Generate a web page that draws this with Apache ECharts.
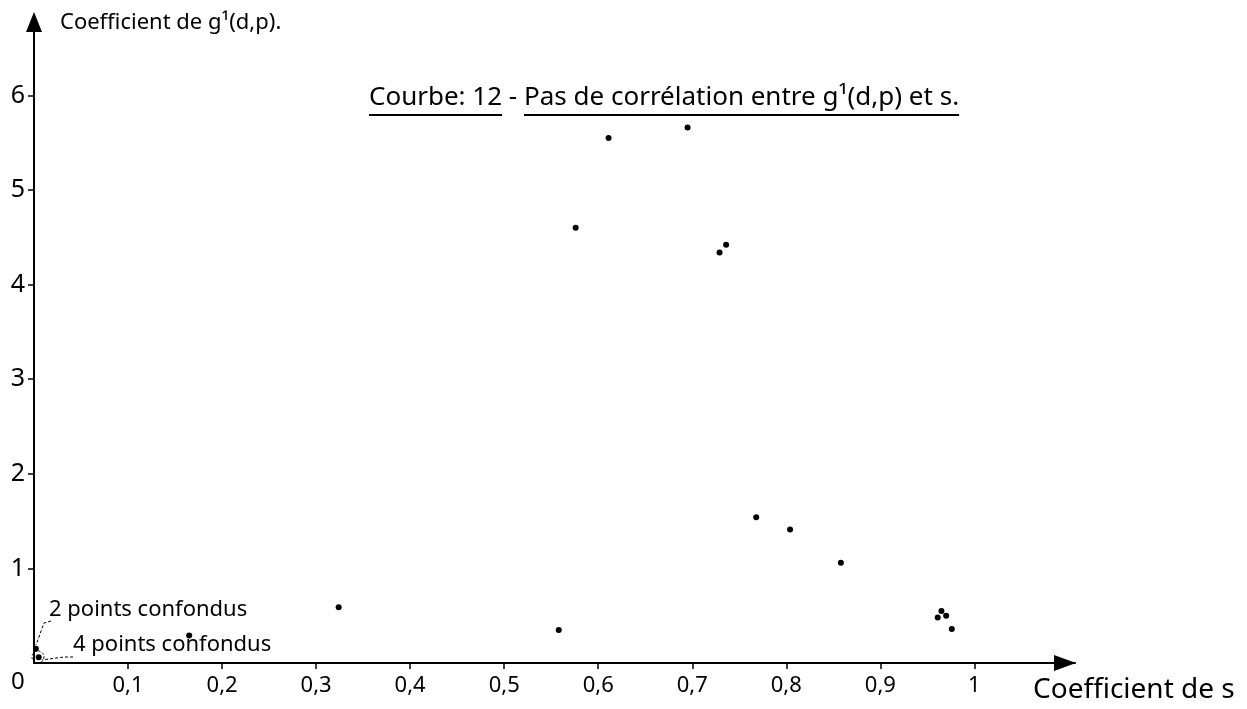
<!DOCTYPE html>
<html><head><meta charset="utf-8">
<script src="https://cdn.jsdelivr.net/npm/echarts@6/dist/echarts.min.js"></script>
<style>html,body{margin:0;padding:0;background:#fff}#c{width:1247px;height:709px}</style>
</head><body><div id="c"></div>
<script>
// Data (x = coefficient de s, y = coefficient de g1(d,p))
const sValues  = [0.611, 0.695, 0.576, 0.736, 0.729, 0.768, 0.804, 0.858, 0.965, 0.961, 0.970, 0.976, 0.324, 0.558, 0.165, 0.002, 0.005];
const gValues  = [5.55, 5.66, 4.60, 4.42, 4.34, 1.54, 1.41, 1.06, 0.55, 0.48, 0.50, 0.36, 0.59, 0.35, 0.29, 0.15, 0.06];
const xTickValues = [0.1, 0.2, 0.3, 0.4, 0.5, 0.6, 0.7, 0.8, 0.9, 1];
const xTickLabels = ['0,1','0,2','0,3','0,4','0,5','0,6','0,7','0,8','0,9','1'];
const yTickValues = [1, 2, 3, 4, 5, 6];
const yTickLabels = ['1','2','3','4','5','6'];
const titleLeft = 'Courbe: 12';
const titleSep = ' - ';
const titleRight = 'Pas de corrélation entre g¹(d,p) et s.';
const annotations = ['2 points confondus', '4 points confondus'];

const points = sValues.map((s, i) => [s, gValues[i]]);
const FONT = 'Noto Sans';
const TITLE_SIZE = 26, TITLE_LEFT = 369, TITLE_TOP = 85;

// measure title pieces to place the underlines
const ctx = document.createElement('canvas').getContext('2d');
ctx.font = TITLE_SIZE + 'px "Noto Sans"';
const w1 = ctx.measureText(titleLeft).width;
const ws = ctx.measureText(titleSep).width;
const w2 = ctx.measureText(titleRight).width;
const ulY = TITLE_TOP + 30;

const labelOf = (vals, labels) => v => {
  const i = vals.findIndex(t => Math.abs(t - v) < 1e-6);
  return i >= 0 ? labels[i] : '';
};

const chart = echarts.init(document.getElementById('c'));
chart.setOption({
  animation: false,
  backgroundColor: '#fff',
  grid: { left: 34, right: 172, top: 15, bottom: 46 },
  xAxis: {
    type: 'value', min: 0, max: 1.107, interval: 0.1,
    name: 'Coefficient de s', nameLocation: 'end', nameGap: -42,
    nameTextStyle: { fontFamily: FONT, fontSize: 28, color: '#000', align: 'left', verticalAlign: 'top', padding: [13, 0, 0, 0] },
    axisLine: { lineStyle: { color: '#000', width: 2 }, symbol: ['none', 'triangle'], symbolSize: [16, 22], symbolOffset: [0, -10] },
    axisTick: { show: true, length: 6, customValues: xTickValues, lineStyle: { color: '#000', width: 1.5 } },
    splitLine: { show: false },
    axisLabel: {
      fontFamily: FONT, fontSize: 22, color: '#000', margin: 12,
      customValues: xTickValues, formatter: labelOf(xTickValues, xTickLabels)
    }
  },
  yAxis: {
    type: 'value', min: 0, max: 6.85, interval: 1,
    name: 'Coefficient de g¹(d,p).', nameLocation: 'end', nameGap: -8,
    nameTextStyle: { fontFamily: FONT, fontSize: 22, color: '#000', align: 'left', verticalAlign: 'middle', padding: [0, 0, 0, 26] },
    axisLine: { lineStyle: { color: '#000', width: 2 }, symbol: ['none', 'triangle'], symbolSize: [16, 20], symbolOffset: [0, -7] },
    axisTick: { show: true, length: 6, customValues: yTickValues, lineStyle: { color: '#000', width: 1.5 } },
    splitLine: { show: false },
    axisLabel: {
      fontFamily: FONT, fontSize: 25, color: '#000', margin: 9,
      customValues: yTickValues, formatter: labelOf(yTickValues, yTickLabels)
    }
  },
  title: {
    text: titleLeft + titleSep + titleRight,
    left: TITLE_LEFT, top: TITLE_TOP, padding: 0,
    textStyle: { fontFamily: FONT, fontSize: TITLE_SIZE, fontWeight: 'normal', color: '#000' }
  },
  graphic: [
    { type: 'line', shape: { x1: TITLE_LEFT, y1: ulY, x2: TITLE_LEFT + w1, y2: ulY }, style: { stroke: '#000', lineWidth: 2 } },
    { type: 'line', shape: { x1: TITLE_LEFT + w1 + ws, y1: ulY, x2: TITLE_LEFT + w1 + ws + w2, y2: ulY }, style: { stroke: '#000', lineWidth: 2 } },
    { type: 'text', left: 11, top: 670, style: { text: '0', font: '24px "Noto Sans"', fill: '#000' } },
    { type: 'text', left: 49, top: 599, style: { text: annotations[0], font: '22px "Noto Sans"', fill: '#000' } },
    { type: 'text', left: 73, top: 634, style: { text: annotations[1], font: '22px "Noto Sans"', fill: '#000' } },
    { type: 'polyline', shape: { points: [[51, 621], [44, 623], [36, 645]] }, style: { stroke: '#000', lineWidth: 1, lineDash: [3, 2] } },
    { type: 'polyline', shape: { points: [[73, 657], [64, 657], [42, 660]] }, style: { stroke: '#000', lineWidth: 1, lineDash: [3, 2] } },
    { type: 'circle', shape: { cx: 38, cy: 657, r: 6 }, style: { fill: 'none', stroke: '#000', lineWidth: 1, lineDash: [2, 2] } }
  ],
  series: [{
    type: 'scatter', data: points, symbol: 'circle', symbolSize: 6,
    itemStyle: { color: '#000', opacity: 1 }
  }]
});
</script>
</body></html>
